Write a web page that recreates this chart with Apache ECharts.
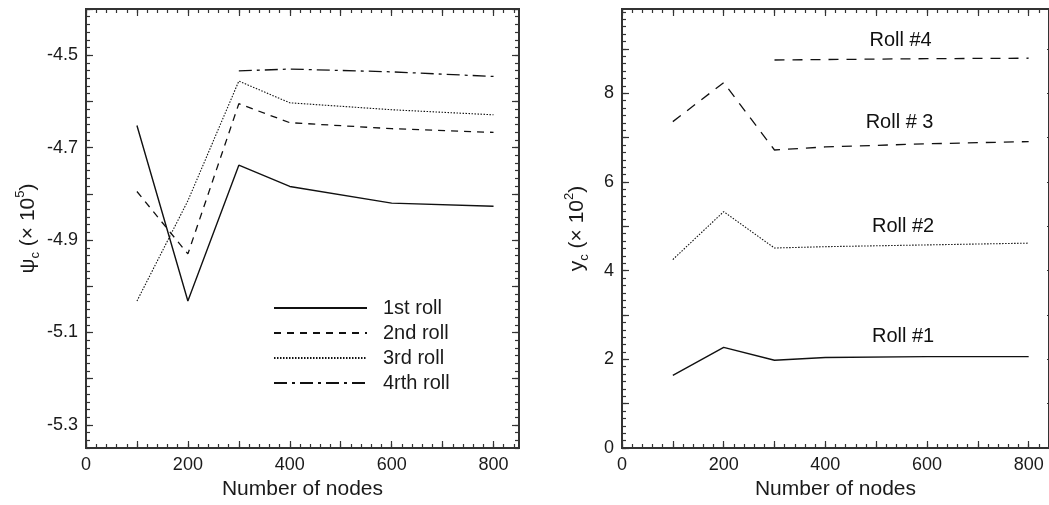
<!DOCTYPE html>
<html><head><meta charset="utf-8">
<script src="https://cdn.jsdelivr.net/npm/echarts@6/dist/echarts.min.js"></script>
<style>html,body{margin:0;padding:0;background:#fff}#c{width:1049px;height:505px}</style>
</head><body><div id="c"></div>
<script>
// ---- data ----
const nodes = [100, 200, 300, 400, 600, 800];
const nodes4 = [300, 400, 600, 800];
const psi1 = [-4.652, -5.032, -4.738, -4.784, -4.820, -4.827];
const psi2 = [-4.795, -4.930, -4.605, -4.646, -4.659, -4.667];
const psi3 = [-5.032, -4.815, -4.556, -4.603, -4.618, -4.629];
const psi4 = [-4.534, -4.530, -4.536, -4.546];
const yc1 = [1.64, 2.27, 1.98, 2.04, 2.06, 2.06];
const yc2 = [4.25, 5.33, 4.51, 4.54, 4.58, 4.62];
const yc3 = [7.36, 8.24, 6.72, 6.79, 6.86, 6.91];
const yc4 = [8.75, 8.76, 8.78, 8.79];
const legendNames = ['1st roll', '2nd roll', '3rd roll', '4rth roll'];
const rollLabels = ['Roll #1', 'Roll #2', 'Roll # 3', 'Roll #4'];
const rollLabelX = [553, 553, 546, 548];
const rollLabelY = [2.51, 4.99, 7.34, 9.2];
const xTickLabels = [0, 200, 400, 600, 800];
const psiTickLabels = [-5.3, -5.1, -4.9, -4.7, -4.5];
const ycTickLabels = [0, 2, 4, 6, 8];

// ---- helpers ----
const FONT = "'Liberation Sans', Arial, Helvetica, sans-serif";
const INK = '#1a1a1a';
const AX = '#333';
function range(a, b, step) {
  const out = []; const n = Math.floor((b - a) / step + 1e-6);
  for (let i = 0; i <= n; i++) out.push(+(a + i * step).toFixed(6));
  return out;
}
function pairs(xs, ys) { return xs.map((x, i) => [x, ys[i]]); }

function mkAxis(grid, pos, min, max, ticks, len, labels, extra) {
  return Object.assign({
    type: 'value', gridIndex: grid, position: pos, min: min, max: max,
    axisLine: { show: true, onZero: false, lineStyle: { color: AX, width: 2 } },
    axisTick: { show: true, inside: true, length: len, customValues: ticks, lineStyle: { color: AX, width: 1.2 } },
    axisLabel: labels ? { show: true, customValues: labels, color: INK, fontSize: 18, fontFamily: FONT, margin: 8 } : { show: false },
    splitLine: { show: false }, minorTick: { show: false }, minorSplitLine: { show: false }
  }, extra || {});
}

const xL = [0, 850], xR = [0, 840], yL = [-5.35, -4.4], yR = [0, 9.9];
const xMajor = range(0, 800, 100);
const xMinorL = range(0, 840, 20), xMinorR = range(0, 840, 20);
const yLMajor = range(-5.3, -4.4, 0.1), yLMinor = range(-5.35, -4.4, 1 / 60);
const yRMajor = range(0, 9, 1), yRMinor = range(0, 9.9, 1 / 6);

const xName = { name: 'Number of nodes', nameLocation: 'middle', nameGap: 29,
  nameTextStyle: { fontSize: 21, color: INK, fontFamily: FONT } };
const richName = { fontSize: 21, color: INK, fontFamily: FONT, lineHeight: 28,
  rich: { sub: { fontSize: 13, verticalAlign: 'bottom', lineHeight: 13, color: INK, fontFamily: FONT },
          sup: { fontSize: 13, verticalAlign: 'top', lineHeight: 13, color: INK, fontFamily: FONT } } };

const xAxes = [
  mkAxis(0, 'bottom', xL[0], xL[1], xMajor, 7, xTickLabels, xName),
  mkAxis(0, 'bottom', xL[0], xL[1], xMinorL, 4, null),
  mkAxis(0, 'top', xL[0], xL[1], xMajor, 7, null),
  mkAxis(0, 'top', xL[0], xL[1], xMinorL, 4, null),
  mkAxis(1, 'bottom', xR[0], xR[1], xMajor, 7, xTickLabels, xName),
  mkAxis(1, 'bottom', xR[0], xR[1], xMinorR, 4, null),
  mkAxis(1, 'top', xR[0], xR[1], xMajor, 7, null),
  mkAxis(1, 'top', xR[0], xR[1], xMinorR, 4, null)
];
const yAxes = [
  mkAxis(0, 'left', yL[0], yL[1], yLMajor, 7, psiTickLabels, {
    name: '\u03c8{sub|c} (\u00d7 10{sup|5})', nameLocation: 'middle', nameGap: 44, nameRotate: 90, nameTextStyle: richName }),
  mkAxis(0, 'left', yL[0], yL[1], yLMinor, 4, null),
  mkAxis(0, 'right', yL[0], yL[1], yLMajor, 7, null),
  mkAxis(0, 'right', yL[0], yL[1], yLMinor, 4, null),
  mkAxis(1, 'left', yR[0], yR[1], yRMajor, 7, ycTickLabels, {
    name: 'y{sub|c} (\u00d7 10{sup|2})', nameLocation: 'middle', nameGap: 31, nameRotate: 90, nameTextStyle: richName }),
  mkAxis(1, 'left', yR[0], yR[1], yRMinor, 4, null),
  mkAxis(1, 'right', yR[0], yR[1], yRMajor, 2, null)
];

function line(name, xi, yi, data, type, width) {
  return { name: name, type: 'line', xAxisIndex: xi, yAxisIndex: yi, data: data,
    symbol: 'none', silent: true, animation: false,
    lineStyle: { color: '#111', width: width, type: type }, itemStyle: { color: '#111' } };
}

const series = [
  line(legendNames[0], 0, 0, pairs(nodes, psi1), 'solid', 1.4),
  line(legendNames[1], 0, 0, pairs(nodes, psi2), [7, 6], 1.3),
  line(legendNames[2], 0, 0, pairs(nodes, psi3), [1.5, 1.5], 1.1),
  line(legendNames[3], 0, 0, pairs(nodes4, psi4), [13, 5, 3, 5], 1.3),
  line(rollLabels[0], 4, 4, pairs(nodes, yc1), 'solid', 1.4),
  line(rollLabels[1], 4, 4, pairs(nodes, yc2), [1.5, 1.5], 1.1),
  line(rollLabels[2], 4, 4, pairs(nodes, yc3), [10, 8], 1.3),
  line(rollLabels[3], 4, 4, pairs(nodes4, yc4), [10, 8], 1.3),
  { type: 'scatter', xAxisIndex: 4, yAxisIndex: 4, silent: true, animation: false,
    symbolSize: 1, itemStyle: { color: '#ffffff' },
    data: rollLabels.map((t, i) => ({ name: t, value: [rollLabelX[i], rollLabelY[i]] })),
    label: { show: true, position: 'inside', formatter: '{b}', color: '#111', opacity: 1,
      textBorderWidth: 0, textBorderColor: 'transparent', fontSize: 20, fontFamily: FONT } }
];

const chart = echarts.init(document.getElementById('c'), null, { renderer: 'canvas' });
chart.setOption({
  backgroundColor: '#fff',
  animation: false,
  grid: [
    { left: 86, top: 9, width: 433, height: 439, containLabel: false },
    { left: 622, top: 9, width: 427, height: 439, containLabel: false }
  ],
  legend: {
    data: legendNames, orient: 'vertical', left: 268, top: 293,
    itemWidth: 93, itemHeight: 14, itemGap: 5,
    itemStyle: { opacity: 0 },
    textStyle: { fontSize: 20, color: INK, fontFamily: FONT, padding: [0, 0, 0, 11] },
    selectedMode: false
  },
  xAxis: xAxes,
  yAxis: yAxes,
  series: series
});
</script></body></html>
